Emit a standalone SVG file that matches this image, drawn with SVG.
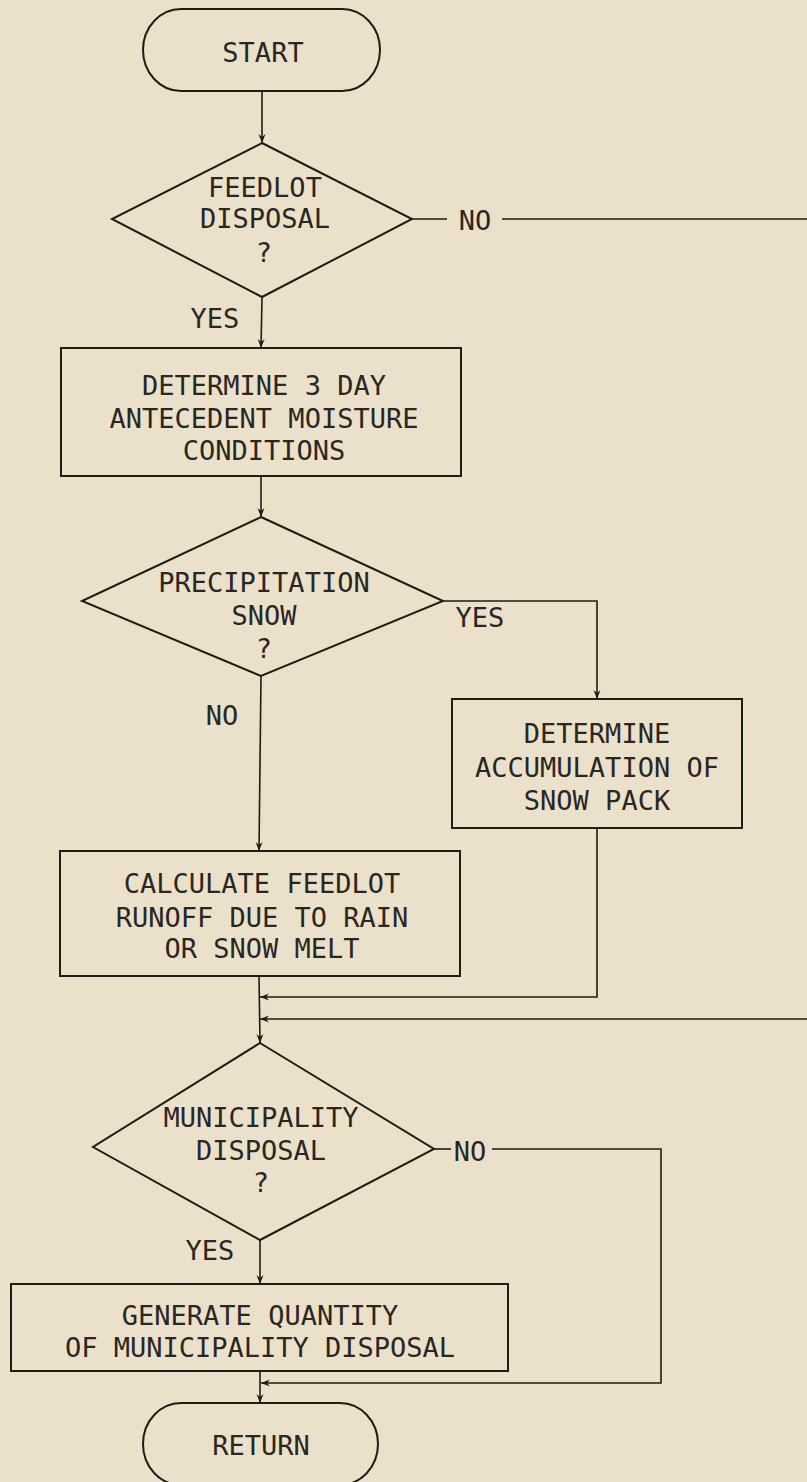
<svg xmlns="http://www.w3.org/2000/svg" width="807" height="1482" viewBox="0 0 807 1482">
<defs>
<style>
.shape{fill:none;stroke:#1f1b17;stroke-width:2}
.conn{fill:none;stroke:#1f1b17;stroke-width:1.6}
text{font-family:"DejaVu Sans Mono","Liberation Mono",monospace;font-size:27px;fill:#2a2622;text-anchor:middle}
</style>
<marker id="arr" markerUnits="userSpaceOnUse" markerWidth="10" markerHeight="8" refX="9" refY="4" orient="auto">
<path d="M0,0.5 L9,4 L0,7.5 L3,4 z" fill="#1f1b17"/>
</marker>
</defs>
<rect width="807" height="1482" fill="#ebe1cb"/>
<g id="connectors">
<line class="conn" x1="262" y1="91" x2="262" y2="143" marker-end="url(#arr)"/>
<line class="conn" x1="262" y1="297" x2="261" y2="348" marker-end="url(#arr)"/>
<line class="conn" x1="412" y1="219" x2="447" y2="219"/>
<line class="conn" x1="502" y1="219" x2="807" y2="219"/>
<line class="conn" x1="261" y1="476" x2="261" y2="517" marker-end="url(#arr)"/>
<path class="conn" d="M443,601 H597 V699" marker-end="url(#arr)"/>
<line class="conn" x1="261" y1="676" x2="259" y2="851" marker-end="url(#arr)"/>
<path class="conn" d="M597,828 V997 H260" marker-end="url(#arr)"/>
<path class="conn" d="M807,1019 H260" marker-end="url(#arr)"/>
<line class="conn" x1="259" y1="976" x2="260" y2="1043" marker-end="url(#arr)"/>
<line class="conn" x1="260" y1="1240" x2="260" y2="1284" marker-end="url(#arr)"/>
<line class="conn" x1="434" y1="1149" x2="451" y2="1149"/>
<path class="conn" d="M492,1149 H661 V1383 H261" marker-end="url(#arr)"/>
<line class="conn" x1="260" y1="1371" x2="260" y2="1403" marker-end="url(#arr)"/>
</g>
<g id="labels">
<text x="475" y="230">NO</text>
<text x="215" y="328">YES</text>
<text x="480" y="627">YES</text>
<text x="222" y="725">NO</text>
<text x="470" y="1161">NO</text>
<text x="210" y="1260">YES</text>
</g>
<g id="start">
<rect class="shape" x="143" y="9" width="237" height="82" rx="38" ry="41"/>
<text x="263" y="62">START</text>
</g>
<g id="feedlot-disposal">
<polygon class="shape" points="262,143 412,219 262,297 112,219"/>
<text x="265" y="197">FEEDLOT</text>
<text x="265" y="228">DISPOSAL</text>
<text x="264" y="262">?</text>
</g>
<g id="antecedent-moisture">
<rect class="shape" x="61" y="348" width="400" height="128"/>
<text x="264" y="395">DETERMINE 3 DAY</text>
<text x="264" y="428">ANTECEDENT MOISTURE</text>
<text x="264" y="460">CONDITIONS</text>
</g>
<g id="precipitation-snow">
<polygon class="shape" points="261,517 443,601 261,676 82,601"/>
<text x="264" y="592">PRECIPITATION</text>
<text x="264" y="625">SNOW</text>
<text x="264" y="658">?</text>
</g>
<g id="snow-pack">
<rect class="shape" x="452" y="699" width="290" height="129"/>
<text x="597" y="743">DETERMINE</text>
<text x="597" y="777">ACCUMULATION OF</text>
<text x="597" y="810">SNOW PACK</text>
</g>
<g id="feedlot-runoff">
<rect class="shape" x="60" y="851" width="400" height="125"/>
<text x="262" y="893">CALCULATE FEEDLOT</text>
<text x="262" y="927">RUNOFF DUE TO RAIN</text>
<text x="262" y="958">OR SNOW MELT</text>
</g>
<g id="municipality-disposal">
<polygon class="shape" points="260,1043 434,1149 260,1240 93,1147"/>
<text x="261" y="1127">MUNICIPALITY</text>
<text x="261" y="1160">DISPOSAL</text>
<text x="261" y="1192">?</text>
</g>
<g id="generate-quantity">
<rect class="shape" x="11" y="1284" width="497" height="87"/>
<text x="260" y="1325">GENERATE QUANTITY</text>
<text x="260" y="1357">OF MUNICIPALITY DISPOSAL</text>
</g>
<g id="return">
<rect class="shape" x="143" y="1403" width="235" height="82" rx="38" ry="41"/>
<text x="261" y="1455">RETURN</text>
</g>
</svg>
